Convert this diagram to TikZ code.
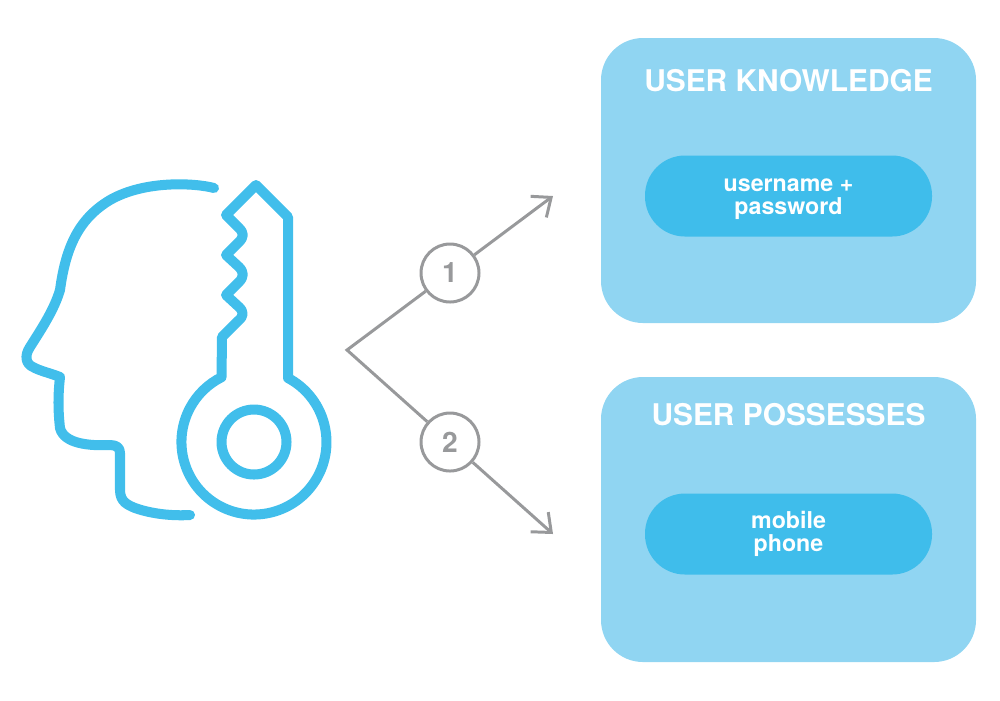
\documentclass[tikz,border=0pt]{standalone}
\usepackage{fontspec}
\setmainfont{TeX Gyre Heros}
\usetikzlibrary{arrows.meta,positioning}
\definecolor{iconBlue}{HTML}{41BEEB}
\definecolor{panelBlue}{HTML}{90D5F2}
\definecolor{pillBlue}{HTML}{3FBDEB}
\definecolor{arrowGray}{HTML}{98999B}

\begin{document}
\begin{tikzpicture}[
  icon/.style={draw=iconBlue, line width=2.85pt, line cap=round, line join=round},
  panel/.style={rounded corners=0.42cm, fill=panelBlue, minimum width=3.75cm, minimum height=2.85cm, inner sep=0pt},
  pill/.style={rounded corners=0.4cm, fill=pillBlue, minimum width=2.87cm, minimum height=0.81cm, inner sep=0pt},
  ptxt/.style={text=white, inner sep=0pt, align=center, font=\fontsize{6.6}{6.6}\selectfont\bfseries},
  ttl/.style={text=white, inner sep=0pt, font=\fontsize{8.5}{10}\selectfont\bfseries},
  num/.style={circle, draw=arrowGray, fill=white, line width=0.85pt, minimum size=0.58cm, inner sep=0pt,
              text=arrowGray, font=\fontsize{8}{9}\selectfont\bfseries},
  link/.style={draw=arrowGray, line width=0.85pt},
  tip/.style={-{Straight Barb[length=4.5pt,width=7.5pt,line width=0.85pt]}},
]
\useasboundingbox (0,0) rectangle (10,7);

% ============ head outline ============
\draw[icon] (2.14,5.12) .. controls (1.95,5.17) and (1.45,5.20) .. (1.10,5.00)
  .. controls (0.80,4.82) and (0.66,4.55) .. (0.60,4.10)
  .. controls (0.54,3.90) and (0.42,3.72) .. (0.30,3.53)
  .. controls (0.24,3.44) and (0.26,3.36) .. (0.33,3.33)
  .. controls (0.40,3.29) and (0.50,3.27) .. (0.60,3.23)
  .. controls (0.58,3.05) and (0.58,2.90) .. (0.60,2.72)
  .. controls (0.64,2.56) and (0.90,2.54) .. (1.10,2.55)
  .. controls (1.17,2.55) and (1.20,2.52) .. (1.20,2.47)
  -- (1.20,2.10)
  .. controls (1.20,1.98) and (1.28,1.95) .. (1.35,1.92)
  .. controls (1.52,1.86) and (1.72,1.84) .. (1.90,1.85);

% ============ key ============
\draw[icon] (2.56,5.15) -- (2.88,4.83) -- (2.88,3.22)
  arc[start angle=62, end angle=-243.4, radius=0.725]
  -- (2.22,3.63)
  -- (2.38,3.79) .. controls (2.44,3.84) and (2.44,3.88) .. (2.39,3.93) -- (2.26,4.05)
  -- (2.39,4.18) .. controls (2.44,4.23) and (2.44,4.28) .. (2.39,4.33) -- (2.26,4.45)
  -- (2.39,4.58) .. controls (2.44,4.63) and (2.44,4.67) .. (2.39,4.72) -- (2.26,4.85)
  -- cycle;
\node[circle, icon, minimum size=0.65cm, inner sep=0pt] (hole) at (2.54,2.58) {};

% ============ two routes ============
\coordinate (fork) at (3.47,3.50);
\coordinate (end1) at (5.53,5.04);
\coordinate (end2) at (5.53,1.66);
\node[num] (n1) at (4.50,4.27) {1};
\node[num] (n2) at (4.50,2.58) {2};
\draw[link] (n1) -- (fork) -- (n2);
\draw[link,tip] (n1) -- (end1);
\draw[link,tip] (n2) -- (end2);

% ============ factor panels ============
\node[panel] (know) at (7.885,5.195) {};
\node[ttl] (knowttl) at (7.885,6.19) {USER KNOWLEDGE};
\node[pill] (knowpill) at (7.885,5.04) {};
\node[ptxt] (knowtxt) at (7.885,5.01) {username +\\password};

\node[panel] (poss) at (7.885,1.805) {};
\node[ttl] (possttl) at (7.885,2.85) {USER POSSESSES};
\node[pill] (posspill) at (7.885,1.66) {};
\node[ptxt] (posstxt) at (7.885,1.66) {mobile\\phone};

\end{tikzpicture}
\end{document}
